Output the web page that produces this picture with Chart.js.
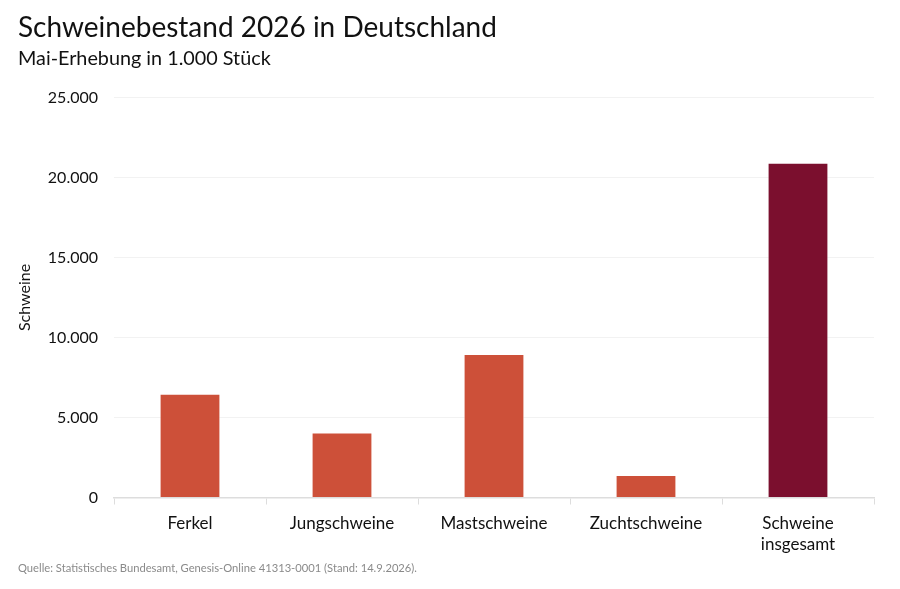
<!DOCTYPE html>
<html>
<head>
<meta charset="utf-8">
<script src="https://cdn.jsdelivr.net/npm/chart.js@4"></script>
<style>
  body { margin: 0; background: #fff; }
  #wrap { position: relative; width: 900px; height: 589px; }
  #source {
    position: absolute; left: 18px; top: 561px;
    font: 11.2px Lato, sans-serif; color: #8a8a8a;
  }
</style>
</head>
<body>
<div id="wrap">
  <canvas id="pigChart" width="900" height="589"></canvas>
  <div id="source">Quelle: Statistisches Bundesamt, Genesis-Online 41313-0001 (Stand: 14.9.2026).</div>
</div>
<script>
/* ====== data ===== */
const categories = ['Ferkel', 'Jungschweine', 'Mastschweine', 'Zuchtschweine', ['Schweine', 'insgesamt']];
const values = [6480, 4060, 8960, 1400, 20920];
const barColors = ['#cd5039', '#cd5039', '#cd5039', '#cd5039', '#7b0f2e'];
const yTicks = [0, 5000, 10000, 15000, 20000, 25000];

const fontFamily = 'Lato, "Noto Sans", sans-serif';

const pigData = {
    labels: categories,
    datasets: [
        {
        data: values,
        backgroundColor: barColors,
        borderColor: 'rgba(255,255,255,0.6)',
        borderWidth: 1,
        barPercentage: 0.8,
        categoryPercentage: 0.5,
        }
    ]
};

const pigConfig = {
    type: 'bar',
    data: pigData,
    options: {
        responsive: false,
        animation: false,
        locale: 'de-DE',
        layout: { padding: { left: 18, right: 26, top: 0, bottom: 26 } },
        plugins: {
            legend: { display: false },
            tooltip: { enabled: false },
            title: {
                display: true,
                text: 'Schweinebestand 2026 in Deutschland',
                align: 'start',
                color: '#111',
                font: { family: fontFamily, size: 28, weight: 'normal' },
                padding: { top: 11, bottom: 2 }
            },
            subtitle: {
                display: true,
                text: 'Mai-Erhebung in 1.000 Stück',
                align: 'start',
                color: '#111',
                font: { family: fontFamily, size: 19.8, weight: 'normal' },
                padding: { top: 0, bottom: 27 }
            }
        },
        scales: {
            y: {
                min: 0,
                max: 25000,
                afterBuildTicks: (axis) => { axis.ticks = yTicks.map(v => ({ value: v })); },
                afterFit: (axis) => { axis.width = 96; },
                ticks: {
                    color: '#111',
                    padding: 16,
                    font: { family: fontFamily, size: 16 },
                    callback: (v) => v.toLocaleString('de-DE')
                },
                grid: { color: '#f2f2f2', drawTicks: false },
                border: { display: false },
                title: {
                    display: true,
                    text: 'Schweine',
                    color: '#111',
                    font: { family: fontFamily, size: 16 },
                    padding: { top: -3, bottom: 0 }
                }
            },
            x: {
                ticks: {
                    color: '#111',
                    padding: 8,
                    font: { family: fontFamily, size: 17, lineHeight: 1.25 }
                },
                grid: {
                    offset: true,
                    drawOnChartArea: false,
                    tickLength: 7,
                    color: '#dddddd'
                },
                border: { color: '#dddddd', width: 1.5 }
            }
        }
    }
};

const pigChart = new Chart(
    document.querySelector('#pigChart'),
    pigConfig
);
</script>
</body>
</html>
